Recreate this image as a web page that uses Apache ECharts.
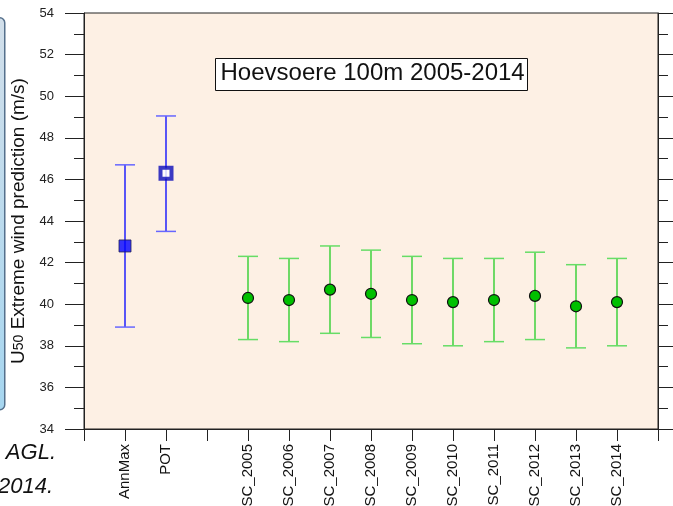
<!DOCTYPE html>
<html>
<head>
<meta charset="utf-8">
<script src="https://cdn.jsdelivr.net/npm/echarts@6/dist/echarts.min.js"></script>
<style>html,body{margin:0;padding:0;background:#fff;}#c{width:673px;height:506px;}</style>
</head>
<body>
<div id="c"></div>
<script>
// ---- data ----
const axisCategories = ['', 'AnnMax', 'POT', '', 'SC_2005', 'SC_2006', 'SC_2007', 'SC_2008', 'SC_2009', 'SC_2010', 'SC_2011', 'SC_2012', 'SC_2013', 'SC_2014', ''];
const blueNames = ['AnnMax', 'POT'];
const blueValues = [42.8, 46.3];
const blueLow = [38.9, 43.5];
const blueHigh = [46.7, 49.05];
const scNames = ['SC_2005', 'SC_2006', 'SC_2007', 'SC_2008', 'SC_2009', 'SC_2010', 'SC_2011', 'SC_2012', 'SC_2013', 'SC_2014'];
const scValues = [40.3, 40.2, 40.7, 40.5, 40.2, 40.1, 40.2, 40.4, 39.9, 40.1];
const scLow = [38.3, 38.2, 38.6, 38.4, 38.1, 38.0, 38.2, 38.3, 37.9, 38.0];
const scHigh = [42.3, 42.2, 42.8, 42.6, 42.3, 42.2, 42.2, 42.5, 41.9, 42.2];
const yTicks = { min: 34, max: 54, step: 2 };
const chartTitle = 'Hoevsoere 100m 2005-2014';
const captionLines = ['AGL.', '2014.'];

// ---- chart ----
const chart = echarts.init(document.getElementById('c'), null, { renderer: 'canvas' });

function errorBar(color, capColor) {
  return function (params, api) {
    const x = api.value(0);
    const lo = api.coord([x, api.value(1)]);
    const hi = api.coord([x, api.value(2)]);
    const hw = 10;
    const st = { stroke: color, lineWidth: 1.3 };
    const cs = { stroke: capColor, lineWidth: 1.5 };
    return {
      type: 'group',
      children: [
        { type: 'line', shape: { x1: lo[0], y1: lo[1], x2: hi[0], y2: hi[1] }, style: st },
        { type: 'line', shape: { x1: lo[0] - hw, y1: lo[1], x2: lo[0] + hw, y2: lo[1] }, style: cs },
        { type: 'line', shape: { x1: hi[0] - hw, y1: hi[1], x2: hi[0] + hw, y2: hi[1] }, style: cs }
      ]
    };
  };
}

const font = 'Liberation Sans, Arial, sans-serif';
const yAxisCommon = {
  type: 'value', min: yTicks.min, max: yTicks.max, interval: yTicks.step,
  splitLine: { show: false },
  axisLine: { show: true, lineStyle: { color: '#222', width: 1 } },
  axisTick: { show: true, inside: false, length: 19, lineStyle: { color: '#222' } },
  minorTick: { show: true, splitNumber: 2, length: 10, lineStyle: { color: '#222' } },
  minorSplitLine: { show: false }
};

chart.setOption({
  animation: false,
  backgroundColor: '#ffffff',
  grid: { left: 84, right: 15, top: 13, bottom: 77, containLabel: false, outerBoundsMode: 'none', show: true, backgroundColor: '#fdf0e4', borderColor: '#222', borderWidth: 1 },
  xAxis: {
    type: 'category', data: axisCategories, boundaryGap: false,
    axisLine: { show: true, lineStyle: { color: '#222' } },
    axisTick: { show: true, interval: 0, length: 12, lineStyle: { color: '#222' } },
    axisLabel: { interval: 0, rotate: 90, margin: 15, fontSize: 15, color: '#111', fontFamily: font, hideOverlap: false },
    splitLine: { show: false }
  },
  yAxis: [
    Object.assign({}, yAxisCommon, {
      position: 'left',
      axisLabel: { show: true, margin: 30, fontSize: 13, color: '#222', fontFamily: font },
      name: '{u|U}{s|50}{u| Extreme wind prediction (m/s)}',
      nameLocation: 'middle', nameRotate: 90, nameGap: 55,
      nameTextStyle: {
        rich: {
          u: { fontSize: 19, color: '#111', fontFamily: font },
          s: { fontSize: 14, color: '#111', fontFamily: font }
        }
      }
    }),
    Object.assign({}, yAxisCommon, {
      position: 'right',
      axisLabel: { show: false }
    })
  ],
  series: [
    {
      type: 'custom', renderItem: errorBar('#0000ff', '#6666ff'),
      data: blueNames.map((n, i) => [n, blueLow[i], blueHigh[i]]),
      encode: { x: 0, y: [1, 2] }, z: 2
    },
    {
      type: 'custom', renderItem: errorBar('#22cc22', '#66dd66'),
      data: scNames.map((n, i) => [n, scLow[i], scHigh[i]]),
      encode: { x: 0, y: [1, 2] }, z: 2
    },
    {
      type: 'scatter', symbol: 'rect', symbolSize: 12, z: 5,
      data: [{ value: [blueNames[0], blueValues[0]], itemStyle: { color: '#0000ff', borderColor: '#222255', borderWidth: 1 } },
             { value: [blueNames[1], blueValues[1]], symbolSize: 11, itemStyle: { color: '#ffffff', borderColor: '#0a0ab8', borderWidth: 4 } }]
    },
    {
      type: 'scatter', symbol: 'circle', symbolSize: 11, z: 5,
      itemStyle: { color: '#00c000', borderColor: '#111', borderWidth: 1.2, opacity: 1 },
      data: scNames.map((n, i) => [n, scValues[i]])
    }
  ],
  graphic: [
    {
      type: 'rect', left: -20, top: 17, shape: { width: 24, height: 392, r: 5 },
      style: {
        fill: new echarts.graphic.LinearGradient(0, 0, 0, 1, [{ offset: 0, color: '#d2dfea' }, { offset: 1, color: '#a6d6f0' }]),
        stroke: '#55708c', lineWidth: 1.5
      }, z: 10
    },
    {
      type: 'group', left: 215, top: 58, z: 10,
      children: [
        { type: 'rect', shape: { x: 0, y: 0, width: 312, height: 32 }, style: { fill: '#ffffff', stroke: '#111', lineWidth: 1 } },
        { type: 'text', x: 5, y: 15, style: { text: chartTitle, font: '24px ' + font, fill: '#111', verticalAlign: 'middle' } }
      ]
    },
    {
      type: 'text', x: 56, y: 464, z: 10,
      style: { text: captionLines[0], font: 'italic 22px ' + font, fill: '#111', align: 'right', verticalAlign: 'bottom' }
    },
    {
      type: 'text', x: 53, y: 498, z: 10,
      style: { text: captionLines[1], font: 'italic 22px ' + font, fill: '#111', align: 'right', verticalAlign: 'bottom' }
    }
  ]
});
</script>
</body>
</html>
